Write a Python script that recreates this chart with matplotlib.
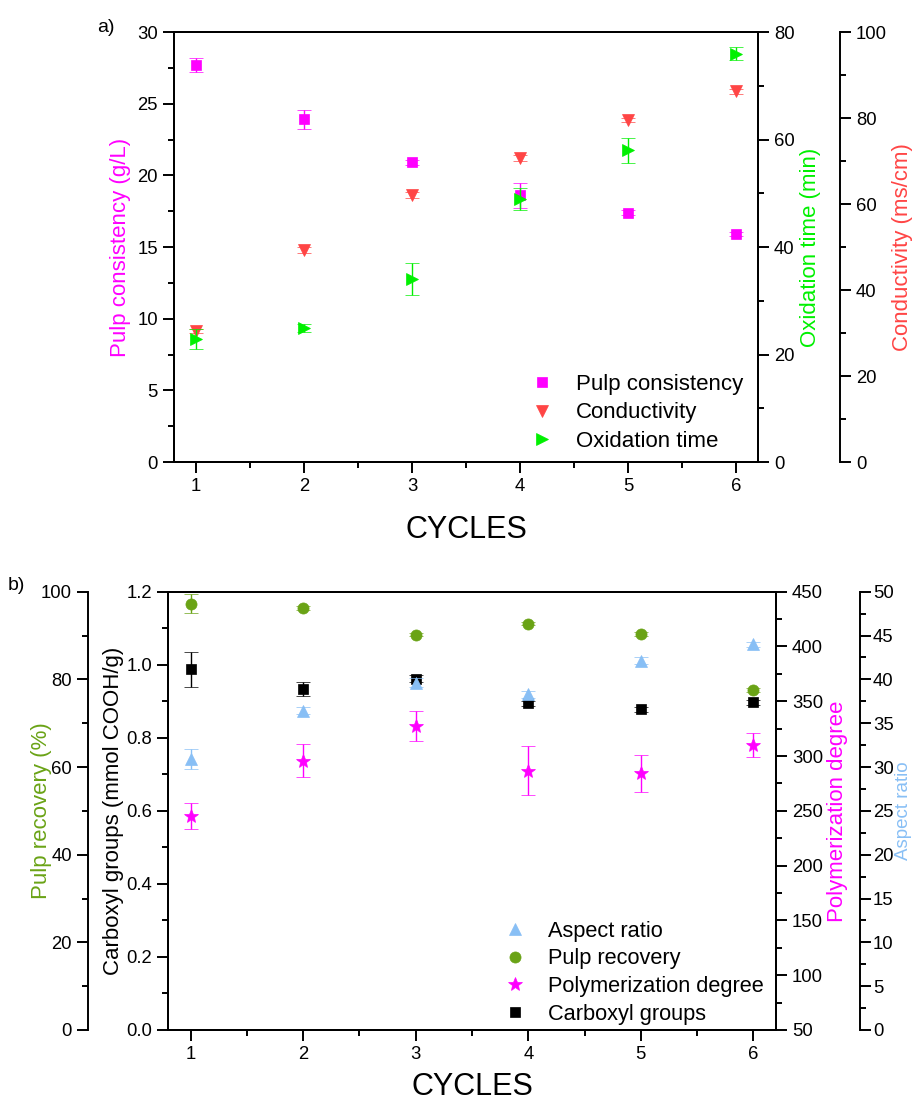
import numpy as np
import matplotlib
matplotlib.use('Agg')
import matplotlib.pyplot as plt
from matplotlib.ticker import MultipleLocator

plt.rcParams['font.family'] = ['Liberation Sans', 'DejaVu Sans']

# datos
ciclos = [1, 2, 3, 4, 5, 6]

# panel a)
consistencia = [27.7, 23.9, 20.9, 18.6, 17.4, 15.9]
consistencia_err = [0.5, 0.65, 0.2, 0.9, 0.15, 0.15]
conductividad = [30.4, 49.3, 62.1, 70.7, 79.5, 86.2]
conductividad_err = [0.5, 0.6, 0.6, 0.6, 0.5, 0.6]
oxidacion = [22.9, 24.9, 34.0, 48.9, 58.0, 76.0]
oxidacion_err = [1.9, 0.8, 3.0, 2.0, 2.3, 1.2]

# panel b)
aspecto = [30.9, 36.4, 39.6, 38.3, 42.1, 44.0]
aspecto_err = [1.1, 0.4, 0.5, 0.4, 0.4, 0.3]
recuperacion = [97.3, 96.3, 90.2, 92.7, 90.4, 77.6]
recuperacion_err = [2.2, 0.5, 0.4, 0.4, 0.4, 0.4]
polimerizacion = [245.3, 295.8, 327.4, 286.6, 284.2, 310.0]
polimerizacion_err = [11.5, 15.0, 13.5, 22.5, 17.0, 11.0]
carboxilo = [0.987, 0.934, 0.962, 0.894, 0.878, 0.897]
carboxilo_err = [0.048, 0.02, 0.01, 0.006, 0.006, 0.006]

# colores
magenta = '#FF00FF'
rojo = '#FF4545'
verde = '#00F000'
oliva = '#6AA316'
azul = '#88BFF5'

W, H = 916, 1103
fig = plt.figure(figsize=(W / 100, H / 100), dpi=100)

TICK = 13.3
LAB = 16
LW = 1.4


def estilo(ax):
    for s in ax.spines.values():
        s.set_linewidth(LW)
    ax.tick_params(axis='both', which='major', direction='out', length=8, width=LW,
                   labelsize=TICK)
    ax.tick_params(axis='both', which='minor', direction='out', length=4.5, width=LW)


def serie(ax, y, err, marker, color, ms, label):
    eb = ax.errorbar(ciclos, y, yerr=err, fmt=marker, color=color, ms=ms, mec=color,
                     mew=0.5, ecolor=color, elinewidth=1, capsize=5, capthick=1,
                     label=label)
    return eb[0]


# ---------------- panel a) ----------------
ax1 = fig.add_axes([174 / W, 1 - 462 / H, 584 / W, 430 / H])
ax_cond = ax1.twinx()
ax_ox = ax1.twinx()

h_cons = serie(ax1, consistencia, consistencia_err, 's', magenta, 7.5, 'Pulp consistency')
h_cond = serie(ax_cond, conductividad, conductividad_err, 'v', rojo, 8.5, 'Conductivity')
h_ox = serie(ax_ox, oxidacion, oxidacion_err, '>', verde, 8.5, 'Oxidation time')

ax1.set_xlim(0.8, 6.2)
ax1.set_ylim(0, 30)
ax1.xaxis.set_major_locator(MultipleLocator(1))
ax1.xaxis.set_minor_locator(MultipleLocator(0.5))
ax1.yaxis.set_major_locator(MultipleLocator(5))
ax1.yaxis.set_minor_locator(MultipleLocator(2.5))
estilo(ax1)
ax1.set_ylabel('Pulp consistency (g/L)', color=magenta, fontsize=LAB)
ax1.yaxis.set_label_coords(-0.074, 0.5)
ax1.set_xlabel('CYCLES', fontsize=22)
ax1.xaxis.set_label_coords(0.5, -0.123)

ax_ox.set_ylim(0, 80)
ax_ox.yaxis.set_major_locator(MultipleLocator(20))
ax_ox.yaxis.set_minor_locator(MultipleLocator(10))
estilo(ax_ox)
ax_ox.set_ylabel('Oxidation time (min)', color=verde, fontsize=LAB)
ax_ox.yaxis.set_label_coords(1.072, 0.5)

ax_cond.set_ylim(0, 100)
ax_cond.yaxis.set_major_locator(MultipleLocator(20))
ax_cond.yaxis.set_minor_locator(MultipleLocator(10))
ax_cond.spines['right'].set_position(('axes', 1.1404))
for s in ['left', 'top', 'bottom']:
    ax_cond.spines[s].set_visible(False)
estilo(ax_cond)
ax_cond.set_ylabel('Conductivity (ms/cm)', color=rojo, fontsize=LAB)
ax_cond.yaxis.set_label_coords(1.23, 0.5)

ax_ox.legend([h_cons, h_cond, h_ox], ['Pulp consistency', 'Conductivity', 'Oxidation time'],
             loc='upper left', bbox_to_anchor=(520 / W, 1 - 363 / H),
             bbox_transform=fig.transFigure, frameon=False, fontsize=16,
             handlelength=1.0, handletextpad=1.0, labelspacing=0.33, borderpad=0,
             numpoints=1)

fig.text(106 / W, 1 - 28 / H, 'a)', fontsize=14, ha='center', va='center')

# ---------------- panel b) ----------------
ax2 = fig.add_axes([168 / W, 1 - 1030 / H, 608 / W, 438.3 / H])
ax_rec = ax2.twinx()
ax_pol = ax2.twinx()
ax_asp = ax2.twinx()

h_carb = serie(ax2, carboxilo, carboxilo_err, 's', 'black', 7.5, 'Carboxyl groups')
h_rec = serie(ax_rec, recuperacion, recuperacion_err, 'o', oliva, 8, 'Pulp recovery')
h_pol = serie(ax_pol, polimerizacion, polimerizacion_err, '*', magenta, 10, 'Polymerization degree')
h_asp = serie(ax_asp, aspecto, aspecto_err, '^', azul, 8.5, 'Aspect ratio')

ax2.set_xlim(0.8, 6.2)
ax2.set_ylim(0, 1.2)
ax2.xaxis.set_major_locator(MultipleLocator(1))
ax2.xaxis.set_minor_locator(MultipleLocator(0.5))
ax2.yaxis.set_major_locator(MultipleLocator(0.2))
ax2.yaxis.set_minor_locator(MultipleLocator(0.1))
ax2.yaxis.set_major_formatter(plt.FormatStrFormatter('%.1f'))
estilo(ax2)
ax2.set_ylabel('Carboxyl groups (mmol COOH/g)', color='black', fontsize=LAB)
ax2.yaxis.set_label_coords(-0.072, 0.5)
ax2.set_xlabel('CYCLES', fontsize=22)
ax2.xaxis.set_label_coords(0.5, -0.095)

# pulp recovery: eje a la izquierda desplazado
ax_rec.set_ylim(0, 100)
ax_rec.yaxis.set_major_locator(MultipleLocator(20))
ax_rec.yaxis.set_minor_locator(MultipleLocator(10))
ax_rec.yaxis.tick_left()
ax_rec.yaxis.set_label_position('left')
ax_rec.spines['left'].set_position(('axes', -0.1316))
ax_rec.spines['left'].set_visible(True)
for s in ['right', 'top', 'bottom']:
    ax_rec.spines[s].set_visible(False)
estilo(ax_rec)
ax_rec.set_ylabel('Pulp recovery (%)', color=oliva, fontsize=LAB)
ax_rec.yaxis.set_label_coords(-0.191, 0.5)

ax_pol.set_ylim(50, 450)
ax_pol.yaxis.set_major_locator(MultipleLocator(50))
ax_pol.yaxis.set_minor_locator(MultipleLocator(25))
estilo(ax_pol)
ax_pol.set_ylabel('Polymerization degree', color=magenta, fontsize=LAB)
ax_pol.yaxis.set_label_coords(1.084, 0.5)

ax_asp.set_ylim(0, 50)
ax_asp.yaxis.set_major_locator(MultipleLocator(5))
ax_asp.yaxis.set_minor_locator(MultipleLocator(2.5))
ax_asp.spines['right'].set_position(('axes', 1.138))
for s in ['left', 'top', 'bottom']:
    ax_asp.spines[s].set_visible(False)
estilo(ax_asp)
ax_asp.tick_params(axis='y', which='major', pad=1.5)
ax_asp.set_ylabel('Aspect ratio', color=azul, fontsize=13.5)
ax_asp.yaxis.set_label_coords(1.195, 0.5)

ax_asp.legend([h_asp, h_rec, h_pol, h_carb],
              ['Aspect ratio', 'Pulp recovery', 'Polymerization degree', 'Carboxyl groups'],
              loc='upper left', bbox_to_anchor=(493 / W, 1 - 910 / H),
              bbox_transform=fig.transFigure, frameon=False, fontsize=15.7,
              handlelength=1.0, handletextpad=1.0, labelspacing=0.3, borderpad=0,
              numpoints=1)

fig.text(16 / W, 1 - 586 / H, 'b)', fontsize=14, ha='center', va='center')

fig.savefig('out.png', dpi=100)
